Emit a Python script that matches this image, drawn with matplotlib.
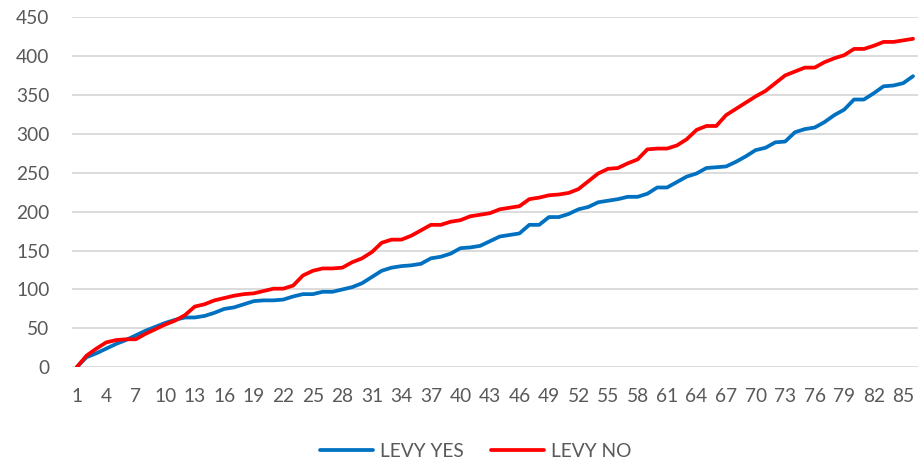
import numpy as np
import matplotlib
matplotlib.use("Agg")
import matplotlib.pyplot as plt

plt.rcParams['font.family'] = ['Lato', 'DejaVu Sans']

# step number 1..86
steps = np.arange(1, 87)

levy_yes = [0, 13, 18, 24, 30, 35, 41, 47, 52, 57,
            61, 64, 64, 66, 70, 75, 77, 81, 85, 86,
            86, 87, 91, 94, 94, 97, 97, 100, 103, 108,
            116, 124, 128, 130, 131, 133, 140, 142, 146, 153,
            154, 156, 162, 168, 170, 172, 183, 183, 193, 193,
            197, 203, 206, 212, 214, 216, 219, 219, 223, 231,
            231, 238, 245, 249, 256, 257, 258, 264, 271, 279,
            282, 289, 290, 302, 306, 308, 315, 324, 331, 344,
            344, 352, 361, 362, 365, 374]

levy_no = [0, 15, 24, 32, 35, 36, 36, 43, 49, 55,
           60, 67, 78, 81, 86, 89, 92, 94, 95, 98,
           101, 101, 105, 118, 124, 127, 127, 128, 135, 140,
           148, 160, 164, 164, 169, 176, 183, 183, 187, 189,
           194, 196, 198, 203, 205, 207, 216, 218, 221, 222,
           224, 229, 239, 249, 255, 256, 262, 267, 280, 281,
           281, 285, 293, 305, 310, 310, 324, 332, 340, 348,
           355, 365, 375, 380, 385, 385, 392, 397, 401, 409,
           409, 413, 418, 418, 420, 422]

x_ticks = list(range(1, 87, 3))
y_ticks = list(range(0, 451, 50))

fig = plt.figure(figsize=(9.2, 4.66), dpi=100)
ax = fig.add_axes([0.078, 0.2118, 0.9198, 0.7517])

ax.plot(steps, levy_yes, color="#0070C0", lw=2.7, label="LEVY YES",
        solid_joinstyle="round", solid_capstyle="round", zorder=3)
ax.plot(steps, levy_no, color="#FF0000", lw=2.7, label="LEVY NO",
        solid_joinstyle="round", solid_capstyle="round", zorder=4)

ax.set_xlim(0.5, 86.5)
ax.set_ylim(0, 450)
ax.set_xticks(x_ticks)
ax.set_yticks(y_ticks)

ax.grid(axis="y", color="#d9d9d9", lw=1.3)
ax.set_axisbelow(True)
for s in ax.spines.values():
    s.set_visible(False)

ax.tick_params(axis="both", length=0, labelsize=13.8, labelcolor="#595959")
ax.tick_params(axis="y", pad=16)
ax.tick_params(axis="x", pad=15)

fig.legend(loc="center", bbox_to_anchor=(0.517, 0.031), ncol=2, frameon=False,
           fontsize=13.8, handlelength=2.8, handletextpad=0.35,
           columnspacing=1.4, labelcolor="#595959")

fig.savefig("out.png", dpi=100)
